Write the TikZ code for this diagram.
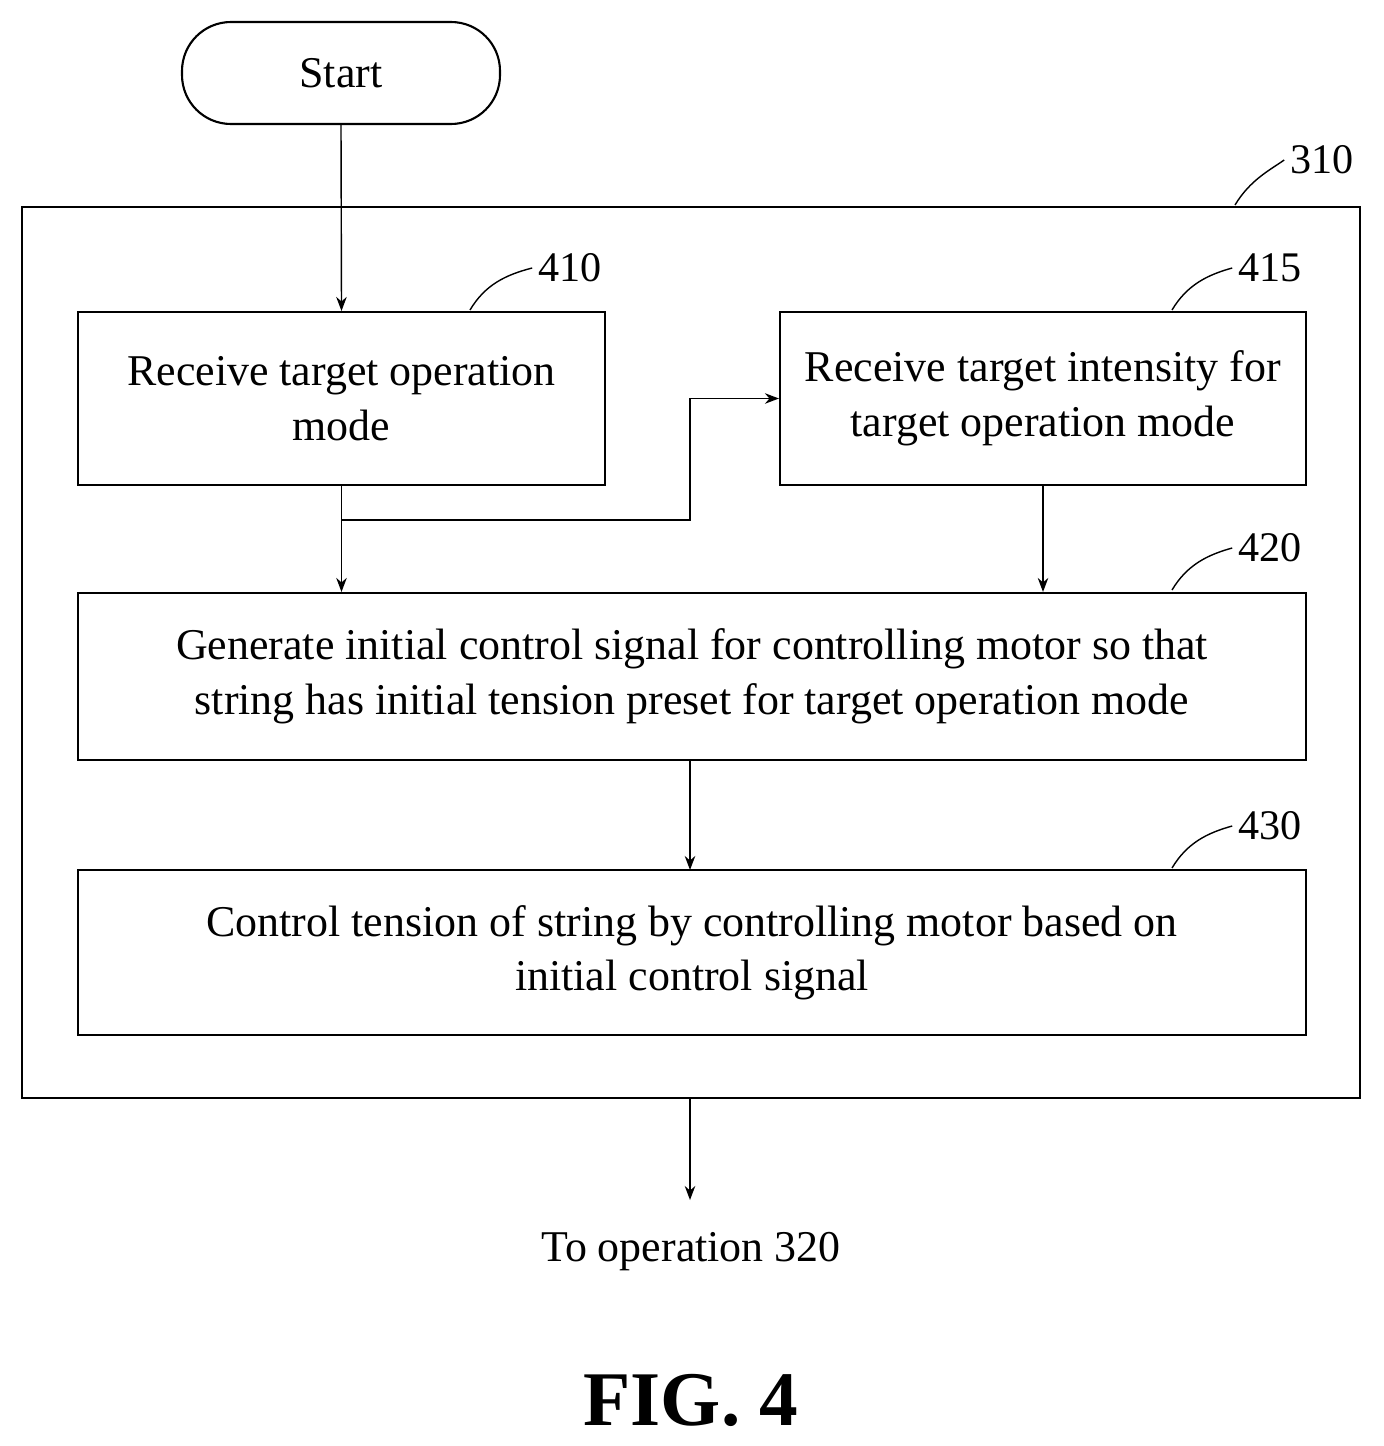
\documentclass[tikz,border=0pt]{standalone}
\usepackage{fontspec}
\setmainfont{Liberation Serif}
\usetikzlibrary{arrows.meta}
\begin{document}
\begin{tikzpicture}[x=0.02cm,y=-0.02cm,
  box/.style={draw,line width=1.2pt,inner sep=0,align=center,font=\fontsize{25}{31}\selectfont},
  lbl/.style={font=\fontsize{24}{28}\selectfont},
  arr/.style={line width=0.8pt,-{Stealth[length=8pt,width=6pt]}},
  lead/.style={line width=0.8pt}]
\useasboundingbox (0,0) rectangle (1383,1446);
\node[draw,line width=1.2pt,rounded corners=0.98cm,minimum width=318*0.02cm,minimum height=102*0.02cm,font=\fontsize{25}{28}\selectfont] (start) at (341,73) {Start};
\node[draw,line width=1.6pt,minimum width=1338*0.02cm,minimum height=891*0.02cm] (outer) at (691,652.5) {};
\node[box,minimum width=527*0.02cm,minimum height=173*0.02cm] (b410) at (341.5,398.5) {Receive target operation\\mode};
\node[box,minimum width=526*0.02cm,minimum height=173*0.02cm] (b415) at (1043,398.5) {Receive target intensity for\\target operation mode};
\node[box,minimum width=1228*0.02cm,minimum height=167*0.02cm] (b420) at (692,676.5) {Generate initial control signal for controlling motor so that\\string has initial tension preset for target operation mode};
\node[box,minimum width=1228*0.02cm,minimum height=165*0.02cm] (b430) at (692,952.5) {Control tension of string by controlling motor based on\\initial control signal};
\node[lbl] (l310) at (1322,160) {310};
\node[lbl] (l410) at (570,268) {410};
\node[lbl] (l415) at (1270,268) {415};
\node[lbl] (l420) at (1270,548) {420};
\node[lbl] (l430) at (1270,826) {430};
\draw[lead] (1235,205) .. controls (1250,180) and (1270,170) .. (l310.west);
\draw[lead] (470,310) .. controls (485,285) and (505,275) .. (l410.west);
\draw[lead] (1172,310) .. controls (1187,285) and (1207,275) .. (l415.west);
\draw[lead] (1172,590) .. controls (1187,565) and (1207,555) .. (l420.west);
\draw[lead] (1172,868) .. controls (1187,843) and (1207,833) .. (l430.west);
\node[font=\fontsize{25}{28}\selectfont] (to) at (691,1252) {To operation 320};
\node[font=\bfseries\fontsize{44}{50}\selectfont] (fig) at (691,1400) {FIG. 4};
\coordinate (j) at (341,520);
\draw[arr] (start.south) -- (b410.north);
\draw[arr] (b410.south) -- (b410.south |- b420.north);
\draw[arr] (j) -- (690,520) -- (690,398.5) -- (b415.west);
\draw[arr] (b415.south) -- (b415.south |- b420.north);
\draw[arr] (690,760) -- (690,870);
\draw[arr] (690,1098) -- (690,1200);
\end{tikzpicture}
\end{document}
